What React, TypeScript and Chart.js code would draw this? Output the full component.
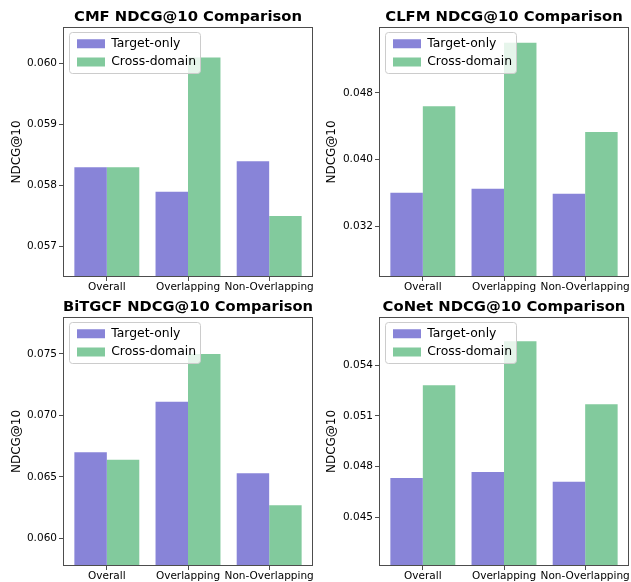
import React, { useEffect, useRef } from 'react';
import { Chart, registerables } from 'chart.js';

Chart.register(...registerables);
Chart.defaults.font.family = "'DejaVu Sans', sans-serif";

// ---------- data ----------
const categories = ['Overall', 'Overlapping', 'Non-Overlapping'];
const seriesNames = ['Target-only', 'Cross-domain'];
const seriesColors = ['#8884d8', '#82ca9d'];

const cmfTitle = 'CMF NDCG@10 Comparison';
const cmfTarget = [0.0583, 0.0579, 0.0584];
const cmfCross = [0.0583, 0.0601, 0.0575];
const cmfTicks = [0.057, 0.058, 0.059, 0.06];
const cmfRange = [0.0565, 0.0606];

const clfmTitle = 'CLFM NDCG@10 Comparison';
const clfmTarget = [0.036, 0.0365, 0.0359];
const clfmCross = [0.0464, 0.054, 0.0433];
const clfmTicks = [0.032, 0.04, 0.048];
const clfmRange = [0.0259, 0.0559];

const bitgcfTitle = 'BiTGCF NDCG@10 Comparison';
const bitgcfTarget = [0.067, 0.0711, 0.0653];
const bitgcfCross = [0.0664, 0.075, 0.0627];
const bitgcfTicks = [0.06, 0.065, 0.07, 0.075];
const bitgcfRange = [0.05775, 0.078];

const conetTitle = 'CoNet NDCG@10 Comparison';
const conetTarget = [0.04733, 0.04769, 0.0471];
const conetCross = [0.05282, 0.05542, 0.0517];
const conetTicks = [0.045, 0.048, 0.051, 0.054];
const conetRange = [0.04212, 0.05686];

const yAxisLabel = 'NDCG@10';

// ---------- helpers ----------
const SPINE = '#4d4d4d';

const mplPlugin = {
  id: 'mplFrame',
  beforeUpdate(chart: any) {
    const lg = chart.legend;
    if (lg) {
      lg._layers = () => [{ z: 1, draw: (area: any) => lg.draw(area) }];
    }
  },
  afterUpdate(chart: any) {
    const lg = chart.legend;
    const ca = chart.chartArea;
    if (lg && ca) {
      lg.left = ca.left + 8;
      lg.top = ca.top + 4.5;
    }
  },
  afterDatasetsDraw(chart: any) {
    const { ctx, chartArea: ca } = chart;
    ctx.save();
    ctx.strokeStyle = SPINE;
    ctx.lineWidth = 1;
    const l = Math.round(ca.left) + 0.5;
    const t = Math.round(ca.top) + 0.5;
    const r = Math.round(ca.right) - 0.5;
    const b = Math.round(ca.bottom) - 0.5;
    ctx.strokeRect(l, t, r - l, b - t);
    // legend frame
    const fx = Math.round(ca.left) + 6.5;
    const fy = Math.round(ca.top) + 5.5;
    const fw = 131;
    const fh = 41;
    const rad = 3;
    ctx.beginPath();
    ctx.moveTo(fx + rad, fy);
    ctx.lineTo(fx + fw - rad, fy);
    ctx.arcTo(fx + fw, fy, fx + fw, fy + rad, rad);
    ctx.lineTo(fx + fw, fy + fh - rad);
    ctx.arcTo(fx + fw, fy + fh, fx + fw - rad, fy + fh, rad);
    ctx.lineTo(fx + rad, fy + fh);
    ctx.arcTo(fx, fy + fh, fx, fy + fh - rad, rad);
    ctx.lineTo(fx, fy + rad);
    ctx.arcTo(fx, fy, fx + rad, fy, rad);
    ctx.closePath();
    ctx.fillStyle = 'rgba(255,255,255,0.8)';
    ctx.fill();
    ctx.strokeStyle = '#cccccc';
    ctx.stroke();
    ctx.restore();
  },
};

type PanelProps = {
  title: string;
  target: number[];
  cross: number[];
  ticks: number[];
  range: number[];
  left: number;
  top: number;
  width: number;
  height: number;
  yAxisWidth: number;
  xAxisHeight: number;
};

function Panel(p: PanelProps) {
  const ref = useRef<HTMLCanvasElement>(null);
  useEffect(() => {
    const series = [p.target, p.cross];
    const chart = new Chart(ref.current as HTMLCanvasElement, {
      type: 'bar',
      data: {
        datasets: series.map((vals, si) => ({
          label: seriesNames[si],
          data: vals.map((y, i) => ({ x: i, y })),
          backgroundColor: seriesColors[si],
          borderWidth: 0,
          categoryPercentage: 0.8,
          barPercentage: 1.0,
        })),
      },
      options: {
        responsive: false,
        animation: false,
        events: [],
        layout: { padding: { left: 0, right: 2, top: 0, bottom: 0 } },
        plugins: {
          tooltip: { enabled: false },
          title: {
            display: true,
            text: p.title,
            fullSize: false,
            color: '#000',
            font: { size: 14.8, weight: 'bold', lineHeight: '17px' } as any,
            padding: { top: 8.5, bottom: 1.5 },
          },
          legend: {
            display: true,
            position: 'chartArea' as any,
            align: 'start',
            labels: {
              boxWidth: 28,
              boxHeight: 9,
              padding: 6,
              color: '#000',
              font: { size: 12.4 },
            },
          },
        },
        scales: {
          x: {
            type: 'linear',
            offset: false,
            min: -0.54,
            max: 2.54,
            afterBuildTicks: (s: any) => {
              s.ticks = categories.map((_, i) => ({ value: i }));
            },
            afterFit: (s: any) => {
              s.height = p.xAxisHeight;
              s.paddingLeft = 0;
              s.paddingRight = 0;
            },
            ticks: {
              autoSkip: false,
              maxRotation: 0,
              minRotation: 0,
              padding: 0,
              color: '#000',
              font: { size: 10.5 },
              callback: (v: any) => categories[v as number] ?? '',
            },
            grid: {
              display: true,
              offset: false,
              drawOnChartArea: false,
              drawTicks: true,
              tickLength: 4,
              color: SPINE,
              tickColor: SPINE,
            },
            border: { display: false },
          },
          y: {
            type: 'linear',
            min: p.range[0],
            max: p.range[1],
            afterBuildTicks: (s: any) => {
              s.ticks = p.ticks.map((v) => ({ value: v }));
            },
            afterFit: (s: any) => {
              s.width = p.yAxisWidth;
              s.paddingTop = 0;
              s.paddingBottom = 0;
            },
            ticks: {
              padding: 2,
              color: '#000',
              font: { size: 10.5 },
              callback: (v: any) => Number(v).toFixed(3),
            },
            grid: {
              display: true,
              drawOnChartArea: false,
              drawTicks: true,
              tickLength: 4,
              color: SPINE,
              tickColor: SPINE,
            },
            border: { display: false },
            title: {
              display: true,
              text: yAxisLabel,
              color: '#000',
              font: { size: 12 },
              padding: { top: 9.5, bottom: 0 },
            },
          },
        },
      } as any,
      plugins: [mplPlugin as any],
    });
    return () => chart.destroy();
  }, []);
  return (
    <canvas
      ref={ref}
      width={p.width}
      height={p.height}
      style={{ position: 'absolute', left: p.left, top: p.top, width: p.width, height: p.height }}
    />
  );
}

export default function App() {
  return (
    <div style={{ position: 'absolute', left: 0, top: 0, width: 631, height: 582, background: '#fff' }}>
      <Panel title={cmfTitle} target={cmfTarget} cross={cmfCross} ticks={cmfTicks} range={cmfRange}
        left={0} top={0} width={315} height={297} yAxisWidth={63} xAxisHeight={20} />
      <Panel title={clfmTitle} target={clfmTarget} cross={clfmCross} ticks={clfmTicks} range={clfmRange}
        left={315} top={0} width={316} height={297} yAxisWidth={64} xAxisHeight={20} />
      <Panel title={bitgcfTitle} target={bitgcfTarget} cross={bitgcfCross} ticks={bitgcfTicks} range={bitgcfRange}
        left={0} top={290} width={315} height={292} yAxisWidth={63} xAxisHeight={16} />
      <Panel title={conetTitle} target={conetTarget} cross={conetCross} ticks={conetTicks} range={conetRange}
        left={315} top={290} width={316} height={292} yAxisWidth={64} xAxisHeight={16} />
    </div>
  );
}
